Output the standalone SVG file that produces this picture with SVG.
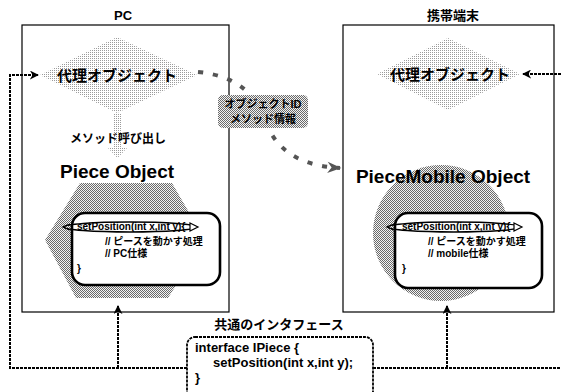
<svg xmlns="http://www.w3.org/2000/svg" width="561" height="392" viewBox="0 0 561 392">
<defs>
<pattern id="lite" patternUnits="userSpaceOnUse" width="2" height="2"><rect width="2" height="2" fill="#fff"/><rect width="1" height="1" fill="#9a9a9a"/></pattern>
<pattern id="mid" patternUnits="userSpaceOnUse" width="2" height="2"><rect width="2" height="2" fill="#f4f4f4"/><rect width="1" height="1" fill="#6a6a6a"/><rect x="1" y="1" width="1" height="1" fill="#6a6a6a"/></pattern>
<marker id="ah" viewBox="0 0 10 10" refX="9" refY="5" markerWidth="9" markerHeight="9" markerUnits="userSpaceOnUse" orient="auto"><path d="M0,0 L10,5 L0,10 L3,5 Z" fill="#000"/></marker>
<marker id="ahs" viewBox="0 0 10 10" refX="9" refY="5" markerWidth="22" markerHeight="14" markerUnits="userSpaceOnUse" orient="auto"><path d="M0,1 L10,5 L0,9 L3,5 Z" fill="#555"/></marker>
</defs>
<style>
text{font-family:"Liberation Sans","Noto Sans CJK JP",sans-serif;fill:#000}
.b{font-weight:bold}
.frame{fill:#fff;stroke:#000;stroke-width:1.2}
.code{fill:#fff;stroke:#000;stroke-width:2.6}
.line{fill:none;stroke:#000;stroke-width:2;stroke-dasharray:3 1}
.sm{font-size:10px;font-weight:bold}
</style>

<text class="b" x="123" y="20" font-size="13" text-anchor="middle">PC</text>
<text class="b" x="453" y="20" font-size="13" text-anchor="middle">携帯端末</text>

<g id="pc-box"><rect class="frame" x="22" y="25" width="207" height="287"/></g>
<g id="mobile-box"><rect class="frame" x="343" y="25" width="211" height="287"/></g>

<g id="pc-proxy">
<polygon points="40,75 117,37 197,75 117,113" fill="url(#lite)"/>
<text class="b" x="117" y="81" font-size="15" text-anchor="middle">代理オブジェクト</text>
</g>
<g id="mobile-proxy">
<polygon points="377,74 448,38 520,74 448,110" fill="url(#lite)"/>
<text class="b" x="450" y="80" font-size="15" text-anchor="middle">代理オブジェクト</text>
</g>

<g id="method-call">
<polygon points="113,114 122,114 122,148 127,148 117.5,158 108,148 113,148" fill="url(#lite)"/>
<text class="b" x="118" y="143" font-size="12" text-anchor="middle">メソッド呼び出し</text>
</g>

<g id="piece-object">
<polygon points="80,183 172,183 205,240 168,298 76,298 45,240" fill="url(#mid)"/>
<text class="b" x="117" y="178" font-size="19" text-anchor="middle">Piece Object</text>
<rect class="code" x="72" y="213" width="148" height="72" rx="13"/>
<text class="sm" x="77" y="230">setPosition(int x,int y){</text>
<ellipse cx="130" cy="227" rx="66" ry="5" fill="none" stroke="#000" stroke-width="1.5"/>
<path d="M70,224 L63,227 L70,230" fill="none" stroke="#000" stroke-width="1.2"/>
<path d="M190,223 L198,227 L190,231 Z" fill="#fff" stroke="#000" stroke-width="1.2"/>
<text class="sm" x="105" y="245">// ピースを動かす処理</text>
<text class="sm" x="105" y="257">// PC仕様</text>
<text class="sm" x="77" y="272">}</text>
</g>

<g id="piecemobile-object">
<circle cx="441" cy="233" r="68" fill="url(#mid)"/>
<text class="b" x="443" y="183" font-size="19" text-anchor="middle">PieceMobile Object</text>
<rect class="code" x="395" y="213" width="147" height="75" rx="13"/>
<text class="sm" x="402" y="230">setPosition(int x,int y){</text>
<ellipse cx="454" cy="227" rx="66" ry="5" fill="none" stroke="#000" stroke-width="1.5"/>
<path d="M394,224 L387,227 L394,230" fill="none" stroke="#000" stroke-width="1.2"/>
<path d="M514,223 L522,227 L514,231 Z" fill="#fff" stroke="#000" stroke-width="1.2"/>
<text class="sm" x="428" y="245">// ピースを動かす処理</text>
<text class="sm" x="428" y="257">// mobile仕様</text>
<text class="sm" x="402" y="272">}</text>
</g>

<g id="connectors">
<path d="M198,72 C240,76 258,98 266,122 C276,150 300,166 340,168" fill="none" stroke="#555" stroke-width="4" stroke-dasharray="5 10" marker-end="url(#ahs)"/>
<path class="line" d="M187,368 L10,368 L10,75 L38,75" marker-end="url(#ah)"/>
<path class="line" d="M118,368 L118,306" marker-end="url(#ah)"/>
<path class="line" d="M373,368 L561,368"/>
<path class="line" d="M447,368 L447,306" marker-end="url(#ah)"/>
<path class="line" d="M561,74 L523,74" marker-end="url(#ah)"/>
</g>

<g id="id-label">
<rect x="218" y="95" width="90" height="33" rx="5" fill="url(#mid)"/>
<text class="b" x="263" y="108" font-size="11" text-anchor="middle">オブジェクトID</text>
<text class="b" x="263" y="123" font-size="11" text-anchor="middle">メソッド情報</text>
</g>

<g id="interface">
<text class="b" x="279" y="329" font-size="13" text-anchor="middle">共通のインタフェース</text>
<rect x="187" y="337" width="186" height="62" rx="8" fill="#fff" stroke="#000" stroke-width="1.8" stroke-dasharray="3 1"/>
<text class="b" x="195" y="352" font-size="13">interface IPiece {</text>
<text class="b" x="213" y="367" font-size="13">setPosition(int x,int y);</text>
<text class="b" x="195" y="382" font-size="13">}</text>
</g>
</svg>
